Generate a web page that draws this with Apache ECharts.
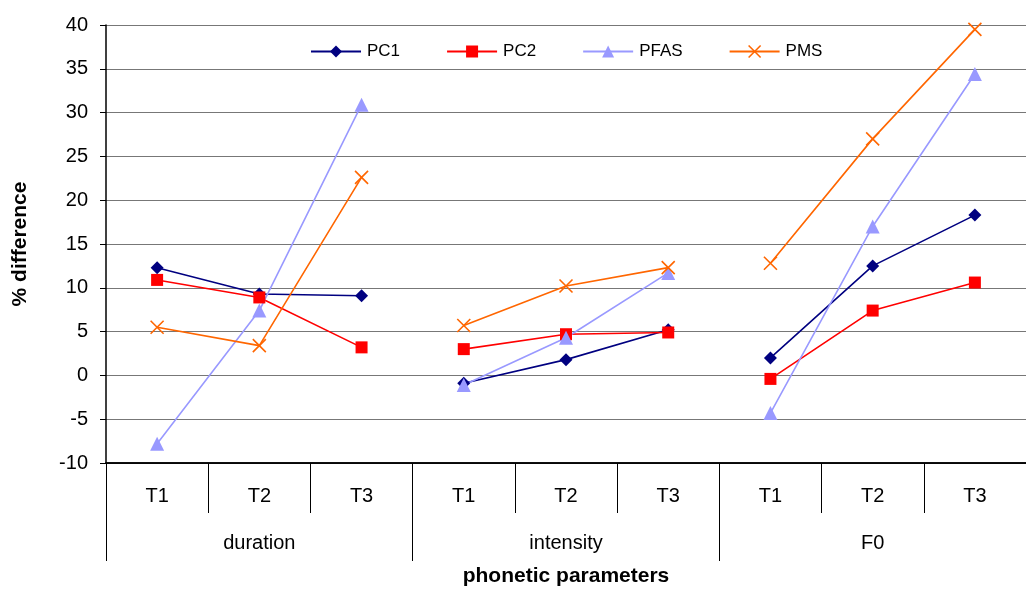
<!DOCTYPE html>
<html>
<head>
<meta charset="utf-8">
<script src="https://cdn.jsdelivr.net/npm/echarts@6/dist/echarts.min.js"></script>
<style>html,body{margin:0;padding:0;background:#fff}#c{width:1026px;height:592px}</style>
</head>
<body>
<div id="c"></div>
<script>
const tones = ["T1","T2","T3","T1","T2","T3","T1","T2","T3"];
const groups = ["duration","intensity","F0"];
const seriesNames = ["PC1","PC2","PFAS","PMS"];
const PC1  = [12.3, 9.3, 9.1, -0.9, 1.8, 5.2, 2.0, 12.5, 18.3];
const PC2  = [10.9, 8.9, 3.2, 3.0, 4.7, 4.9, -0.4, 7.4, 10.6];
const PFAS = [-7.8, 7.4, 30.9, -1.1, 4.3, 11.7, -4.3, 17.0, 34.4];
const PMS  = [5.5, 3.4, 22.6, 5.7, 10.2, 12.3, 12.8, 27.0, 39.5];
const yTicks = [-10, -5, 0, 5, 10, 15, 20, 25, 30, 35, 40];

const values = {PC1, PC2, PFAS, PMS};
const styles = {
  PC1:  {color:'#000080', symbol:'diamond', size:13},
  PC2:  {color:'#FF0000', symbol:'rect', size:12},
  PFAS: {color:'#9999FF', symbol:'triangle', size:14},
  PMS:  {color:'#FF6600', symbol:'path://M0,0L10,10M10,0L0,10', size:13}
};

const series = [];
seriesNames.forEach(name => {
  const st = styles[name];
  const isX = name === 'PMS';
  for (let g = 0; g < groups.length; g++) {
    const data = values[name].map((v, i) => (Math.floor(i / 3) === g ? v : null));
    series.push({
      name: name,
      type: 'line',
      xAxisIndex: 0,
      data: data,
      connectNulls: false,
      symbol: st.symbol,
      symbolSize: st.size,
      showAllSymbol: true,
      lineStyle: {color: st.color, width: 1.6},
      itemStyle: isX ? {color: 'rgba(0,0,0,0)', borderColor: st.color, borderWidth: 1.6}
                     : {color: st.color, borderWidth: 0},
      emphasis: {disabled: true},
      animation: false,
      z: 3
    });
  }
});

const chart = echarts.init(document.getElementById('c'), null, {renderer: 'canvas'});
chart.setOption({
  animation: false,
  backgroundColor: '#ffffff',
  textStyle: {fontFamily: 'Liberation Sans, Arial, sans-serif'},
  grid: {left: 106, top: 25, width: 931, height: 442, containLabel: false},
  legend: {
    data: seriesNames.map(n => ({name: n, itemStyle: n === 'PMS' ? {color:'rgba(0,0,0,0)', borderColor:'#FF6600', borderWidth:1.6} : undefined})),
    left: 305, top: 38, itemWidth: 50, itemHeight: 15, itemGap: 46,
    textStyle: {fontSize: 17, color: '#000', padding: [0,0,0,1]},
    selectedMode: false
  },
  xAxis: [
    {
      type: 'category', data: tones, position: 'bottom', boundaryGap: true,
      axisLine: {show: true, onZero: false, lineStyle: {color: '#000', width: 1.5}},
      axisTick: {show: true, interval: 0, length: 50, alignWithLabel: false, lineStyle: {color: '#000'}},
      axisLabel: {interval: 0, fontSize: 20, color: '#000', margin: 23},
      splitLine: {show: false}
    },
    {
      type: 'category', data: groups, position: 'bottom', boundaryGap: true, gridIndex: 0,
      axisLine: {show: true, onZero: false, lineStyle: {color: '#000', width: 1.5}},
      axisTick: {show: true, interval: 0, length: 98, alignWithLabel: false, lineStyle: {color: '#000'}},
      axisLabel: {interval: 0, fontSize: 20, color: '#000', margin: 70},
      name: 'phonetic parameters', nameLocation: 'middle', nameGap: 103,
      nameTextStyle: {fontSize: 21, fontWeight: 'bold', color: '#000'},
      splitLine: {show: false}
    }
  ],
  yAxis: {
    type: 'value', min: -10, max: 40, interval: 5,
    axisLine: {show: true, lineStyle: {color: '#000', width: 1.5}},
    axisTick: {show: true, length: 6, lineStyle: {color: '#000'}},
    axisLabel: {fontSize: 20, color: '#000', margin: 18,
      formatter: v => (yTicks.includes(v) ? String(v) : '')},
    splitLine: {show: true, lineStyle: {color: '#777', width: 1}},
    name: '% difference', nameLocation: 'middle', nameGap: 75, nameRotate: 90,
    nameTextStyle: {fontSize: 21, fontWeight: 'bold', color: '#000'}
  },
  series: series
});
</script>
</body>
</html>
